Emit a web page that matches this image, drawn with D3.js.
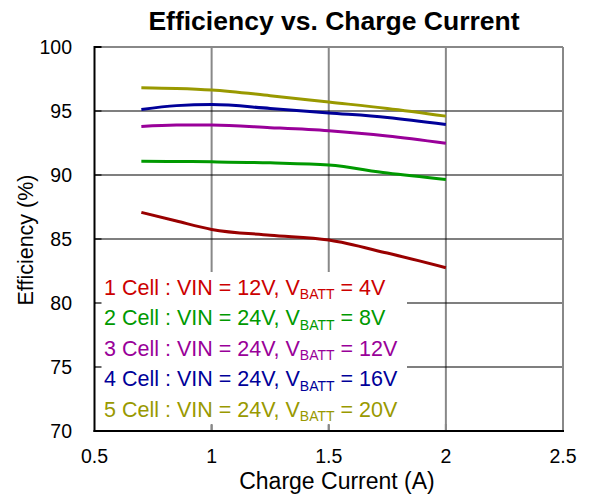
<!DOCTYPE html>
<html>
<head>
<meta charset="utf-8">
<script src="https://cdn.jsdelivr.net/npm/d3@7"></script>
<style>
  body { margin: 0; background: #fff; }
  text { font-family: "Liberation Sans", Arial, sans-serif; }
</style>
</head>
<body>
<svg id="chart" width="589" height="498"></svg>
<script>
const title = "Efficiency vs. Charge Current";
const xLabel = "Charge Current (A)";
const yLabel = "Efficiency (%)";
const xTicks = [0.5, 1, 1.5, 2, 2.5];
const yTicks = [70, 75, 80, 85, 90, 95, 100];

const current = [0.7, 0.85, 1.0, 1.25, 1.5, 1.75, 2.0];
const cell1 = [87.08, 86.4, 85.75, 85.3, 84.92, 83.9, 82.76];
const cell2 = [91.07, 91.06, 91.03, 90.95, 90.78, 90.15, 89.65];
const cell3 = [93.78, 93.9, 93.9, 93.7, 93.45, 93.05, 92.48];
const cell4 = [95.12, 95.42, 95.5, 95.2, 94.85, 94.5, 93.95];
const cell5 = [96.82, 96.76, 96.64, 96.2, 95.7, 95.2, 94.6];

const seriesNames = ["1 Cell : VIN = 12V, V", "2 Cell : VIN = 24V, V", "3 Cell : VIN = 24V, V", "4 Cell : VIN = 24V, V", "5 Cell : VIN = 24V, V"];
const seriesSuffix = [" = 4V", " = 8V", " = 12V", " = 16V", " = 20V"];
const lineColors = ["#990000", "#009900", "#990099", "#000099", "#999900"];
const textColors = ["#cc0000", "#009900", "#990099", "#000099", "#999900"];
const allSeries = [cell1, cell2, cell3, cell4, cell5];

const svg = d3.select("#chart");
const L = 94.5, R = 563, T = 47, B = 431;
const x = d3.scaleLinear().domain([0.5, 2.5]).range([L, R]);
const y = d3.scaleLinear().domain([70, 100]).range([B, T]);

// vertical grid (gray)
svg.append("g").selectAll("line").data(xTicks.slice(1)).join("line")
  .attr("x1", d => x(d)).attr("x2", d => x(d)).attr("y1", T).attr("y2", B)
  .attr("stroke", "#888").attr("stroke-width", 2);
// horizontal grid (black)
svg.append("g").selectAll("line").data(yTicks.slice(1, -1)).join("line")
  .attr("x1", L).attr("x2", R).attr("y1", d => y(d)).attr("y2", d => y(d))
  .attr("stroke", "#000").attr("stroke-width", 1.2);
// top & right border (gray)
svg.append("line").attr("x1", L).attr("x2", R).attr("y1", T).attr("y2", T).attr("stroke", "#888").attr("stroke-width", 2);
svg.append("line").attr("x1", R).attr("x2", R).attr("y1", T).attr("y2", B).attr("stroke", "#888").attr("stroke-width", 2);

// lines
const line = d3.line().x((d, i) => x(current[i])).y(d => y(d)).curve(d3.curveMonotoneX);
svg.append("g").selectAll("path").data(allSeries).join("path")
  .attr("d", d => line(d)).attr("fill", "none")
  .attr("stroke", (d, i) => lineColors[i]).attr("stroke-width", 3);

// legend background
svg.append("rect").attr("x", L + 1).attr("y", 272).attr("width", 407 - L - 1).attr("height", 153).attr("fill", "#fff");
// inner ticks
svg.append("g").selectAll("line").data(yTicks.slice(1, -1)).join("line")
  .attr("x1", L).attr("x2", L + 7).attr("y1", d => y(d)).attr("y2", d => y(d))
  .attr("stroke", "#000").attr("stroke-width", 1.2);
svg.append("g").selectAll("line").data(xTicks.slice(1, -1)).join("line")
  .attr("x1", d => x(d)).attr("x2", d => x(d)).attr("y1", B - 7).attr("y2", B)
  .attr("stroke", "#888").attr("stroke-width", 2);

// axes
svg.append("line").attr("x1", L).attr("x2", L).attr("y1", T - 1).attr("y2", B + 1).attr("stroke", "#000").attr("stroke-width", 2);
svg.append("line").attr("x1", L - 1).attr("x2", R + 1).attr("y1", B).attr("y2", B).attr("stroke", "#000").attr("stroke-width", 2);
svg.append("line").attr("x1", L).attr("x2", L + 7).attr("y1", T).attr("y2", T).attr("stroke", "#000").attr("stroke-width", 2);

// legend text
const leg = svg.append("g");
seriesNames.forEach((n, i) => {
  const t = leg.append("text").attr("x", 104).attr("y", 294.5 + i * 30.6)
    .attr("font-size", 21.5).attr("fill", textColors[i]);
  t.append("tspan").text(n);
  t.append("tspan").text("BATT").attr("font-size", 14).attr("dy", 4.5);
  t.append("tspan").text(seriesSuffix[i]).attr("dy", -4.5);
});

// tick labels
svg.append("g").selectAll("text").data(yTicks).join("text")
  .attr("x", 72).attr("y", d => y(d) + 7).attr("text-anchor", "end")
  .attr("font-size", 19.5).attr("fill", "#000").text(d => d);
svg.append("g").selectAll("text").data(xTicks).join("text")
  .attr("x", d => x(d)).attr("y", 463).attr("text-anchor", "middle")
  .attr("font-size", 19.5).attr("fill", "#000").text(d => d);

// titles
svg.append("text").attr("x", 334).attr("y", 30).attr("text-anchor", "middle")
  .attr("font-size", 26.5).attr("font-weight", "bold").text(title);
svg.append("text").attr("x", 337).attr("y", 489).attr("text-anchor", "middle")
  .attr("font-size", 23).text(xLabel);
svg.append("text").attr("transform", "translate(33,240) rotate(-90)").attr("text-anchor", "middle")
  .attr("font-size", 21.5).text(yLabel);
</script>
</body>
</html>
